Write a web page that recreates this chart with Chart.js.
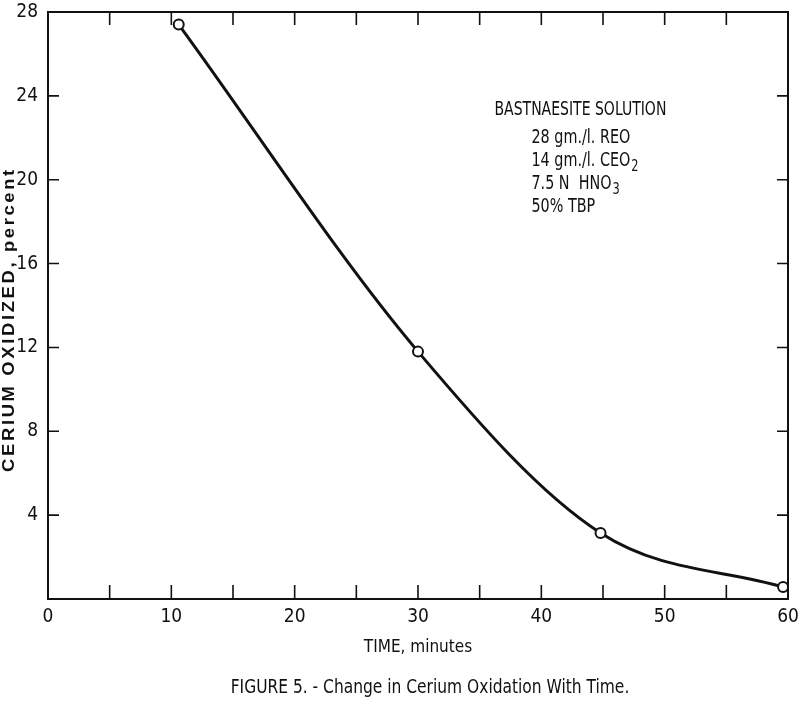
<!DOCTYPE html>
<html>
<head>
<meta charset="utf-8">
<script src="https://cdn.jsdelivr.net/npm/chart.js@4.4.1/dist/chart.umd.min.js"></script>
<style>
  html, body { margin: 0; padding: 0; background: #fff; }
  #wrap { width: 800px; height: 711px; position: relative; }
</style>
</head>
<body>
<div id="wrap"><canvas id="myChart"></canvas></div>
<script>
// values
const timeMinutes = [10.6, 30, 44.8, 59.6];
const ceriumOxidized = [27.4, 11.8, 3.15, 0.57];
const xTickLabels = [0, 10, 20, 30, 40, 50, 60];
const yTickLabels = [4, 8, 12, 16, 20, 24, 28];
const noteTitle = "BASTNAESITE SOLUTION";
const noteLines = [
  ["28 gm./l. REO", ""],
  ["14 gm./l. CEO", "2"],
  ["7.5 N  HNO", "3"],
  ["50% TBP", ""],
];
const yTitle = "CERIUM OXIDIZED, percent";
const caption = "FIGURE 5. - Change in Cerium Oxidation With Time.";

const FONT = '"Liberation Sans Narrow", "DejaVu Sans Condensed", "Roboto Condensed", sans-serif';
Chart.defaults.font.family = FONT;
Chart.defaults.color = "#111";

// squeezed text, the old figure uses a tall condensed face
function narrowText(ctx, text, x, y, sx) {
  ctx.save();
  ctx.translate(x, y);
  ctx.scale(sx, 1);
  ctx.fillText(text, 0, 0);
  const w = ctx.measureText(text).width * sx;
  ctx.restore();
  return w;
}

// frame, inward tick marks, note block, y title and caption
const paperPlugin = {
  id: "paper",
  afterDatasetsDraw(chart) {
    const ctx = chart.ctx;
    const a = chart.chartArea;
    const xs = chart.scales.x, ys = chart.scales.y;
    ctx.save();
    ctx.strokeStyle = "#111";
    ctx.lineWidth = 2;
    ctx.strokeRect(a.left, a.top, a.right - a.left, a.bottom - a.top);

    ctx.lineWidth = 1.6;
    ctx.beginPath();
    xs.ticks.forEach(t => {
      if (t.value <= 0 || t.value >= 60) return;
      const px = xs.getPixelForValue(t.value);
      ctx.moveTo(px, a.bottom); ctx.lineTo(px, a.bottom - 14);
      ctx.moveTo(px, a.top); ctx.lineTo(px, a.top + 13);
    });
    ys.ticks.forEach(t => {
      if (t.value <= 0 || t.value >= 28) return;
      const py = ys.getPixelForValue(t.value);
      ctx.moveTo(a.left, py); ctx.lineTo(a.left + 11, py);
      ctx.moveTo(a.right, py); ctx.lineTo(a.right - 11, py);
    });
    ctx.stroke();

    // note
    ctx.fillStyle = "#111";
    ctx.textBaseline = "middle";
    ctx.textAlign = "left";
    ctx.font = "19px " + FONT;
    narrowText(ctx, noteTitle, xs.getPixelForValue(36.2), ys.getPixelForValue(23.33), 0.82);
    const lx = xs.getPixelForValue(39.2);
    noteLines.forEach((ln, i) => {
      const py = ys.getPixelForValue(22.0 - i * 1.1);
      ctx.font = "19px " + FONT;
      const w = narrowText(ctx, ln[0], lx, py, 0.84);
      if (ln[1]) {
        ctx.font = "15px " + FONT;
        narrowText(ctx, ln[1], lx + w + 1, py + 6, 0.84);
      }
    });

    // y axis title, wide and spaced like the original
    ctx.save();
    ctx.translate(10, (a.top + a.bottom) / 2 + 14);
    ctx.rotate(-Math.PI / 2);
    ctx.scale(1.15, 1);
    ctx.textAlign = "center";
    ctx.font = 'bold 16px "Liberation Sans", Arial, sans-serif';
    ctx.letterSpacing = "2.3px";
    ctx.fillText(yTitle, 0, 0);
    ctx.restore();

    // caption
    ctx.font = "20px " + FONT;
    ctx.textAlign = "center";
    narrowText(ctx, caption, 430, 688, 0.86);
    ctx.restore();
  }
};

const ctx = document.getElementById("myChart").getContext("2d");
new Chart(ctx, {
  type: "line",
  data: {
    datasets: [{
      data: timeMinutes.map((t, i) => ({ x: t, y: ceriumOxidized[i] })),
      borderColor: "#111",
      borderWidth: 3,
      cubicInterpolationMode: "monotone",
      pointRadius: 5,
      pointBorderWidth: 2,
      pointBackgroundColor: "#fff",
      pointBorderColor: "#111",
      clip: false,
    }],
  },
  options: {
    responsive: true,
    maintainAspectRatio: false,
    animation: false,
    layout: { padding: { top: 0, right: 0, bottom: 51, left: 0 } },
    plugins: { legend: { display: false }, tooltip: { enabled: false } },
    scales: {
      x: {
        type: "linear",
        min: 0, max: 60,
        border: { display: false },
        grid: { display: false, drawTicks: false },
        ticks: {
          stepSize: 5,
          padding: 7,
          autoSkip: false,
          maxRotation: 0,
          font: { size: 19 },
          callback: v => xTickLabels.includes(v) ? String(v) : "",
        },
        title: {
          display: true,
          text: "TIME, minutes",
          font: { size: 17 },
          padding: { top: 0, bottom: 2 },
        },
        afterFit: s => { s.height = 61; s.paddingLeft = 0; s.paddingRight = 12; },
      },
      y: {
        type: "linear",
        min: 0, max: 28,
        border: { display: false },
        grid: { display: false, drawTicks: false },
        ticks: {
          stepSize: 4,
          padding: 10,
          font: { size: 19 },
          callback: v => yTickLabels.includes(v) ? String(v) : "",
        },
        afterFit: s => { s.width = 48; s.paddingTop = 12; s.paddingBottom = 0; },
      },
    },
  },
  plugins: [paperPlugin],
});
</script>
</body>
</html>
